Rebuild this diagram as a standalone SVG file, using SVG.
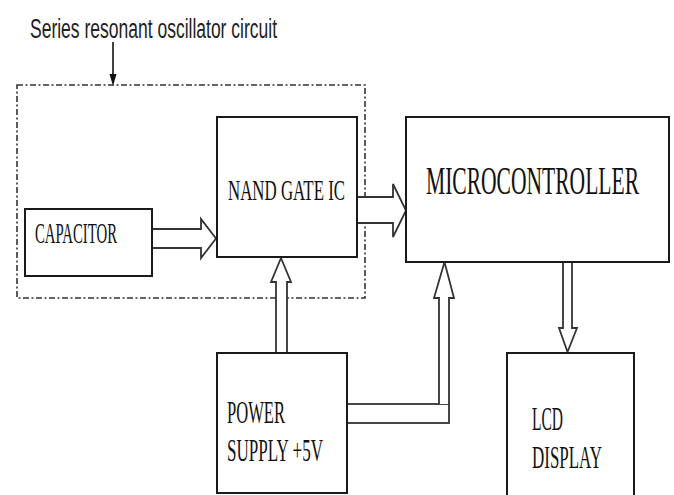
<svg xmlns="http://www.w3.org/2000/svg" width="674" height="495" viewBox="0 0 674 495">
<style>
.box{fill:#fff;stroke:#1a1a1a;stroke-width:2}
.lbl{font-family:"Liberation Serif","Times New Roman",serif;fill:#111}
.arr{fill:#fff;stroke:#333;stroke-width:1.8;stroke-linejoin:miter}
.dash{fill:none;stroke:#333;stroke-width:1.6;stroke-dasharray:6 2.5 2 2.5}
</style>
<rect width="674" height="495" fill="#fff"/>
<g id="group-oscillator">
<rect class="dash" x="17" y="85" width="348" height="213"/>
<text x="30" y="38" font-family="'Liberation Sans',Arial,sans-serif" font-size="27" fill="#222" textLength="247" lengthAdjust="spacingAndGlyphs">Series resonant oscillator circuit</text>
<line x1="113" y1="42" x2="113" y2="76" stroke="#111" stroke-width="1.6"/>
<polygon points="109.5,74 116.5,74 113,86" fill="#111"/>
</g>
<g id="connectors">
<polygon class="arr" points="152,229 201,229 201,219 216,238.5 201,258 201,248 152,248"/>
<polygon class="arr" points="357,197 393,197 393,184 406,210.5 393,237 393,223 357,223"/>
<polygon class="arr" points="276,353 276,282 271,282 281,258 291,282 287,282 287,353"/>
<polygon class="arr" points="563,261 563,328 559,328 567.5,352 577,328 572,328 572,261"/>
<rect class="arr" x="347" y="404" width="102" height="19"/>
<polyline class="arr" points="439,404 439,298 434,298 444.5,262 454,298 449,298 449,404"/>
</g>
<g id="node-capacitor">
<rect class="box" x="25" y="209" width="127" height="67"/>
<text class="lbl" x="35" y="243" font-size="30" textLength="82" lengthAdjust="spacingAndGlyphs">CAPACITOR</text>
</g>
<g id="node-nand">
<rect class="box" x="217" y="117" width="140" height="140"/>
<text class="lbl" x="228" y="200" font-size="30" textLength="117" lengthAdjust="spacingAndGlyphs">NAND GATE IC</text>
</g>
<g id="node-micro">
<rect class="box" x="406" y="117" width="263" height="145"/>
<text class="lbl" x="426" y="194" font-size="39" textLength="213" lengthAdjust="spacingAndGlyphs">MICROCONTROLLER</text>
</g>
<g id="node-power">
<rect class="box" x="217" y="353" width="130" height="140"/>
<text class="lbl" x="227" y="423" font-size="32" textLength="58" lengthAdjust="spacingAndGlyphs">POWER</text>
<text class="lbl" x="227" y="461" font-size="32" textLength="96" lengthAdjust="spacingAndGlyphs">SUPPLY +5V</text>
</g>
<g id="node-lcd">
<rect class="box" x="507" y="353" width="127" height="150"/>
<text class="lbl" x="532" y="430" font-size="33" textLength="31" lengthAdjust="spacingAndGlyphs">LCD</text>
<text class="lbl" x="532" y="468" font-size="32" textLength="70" lengthAdjust="spacingAndGlyphs">DISPLAY</text>
</g>
</svg>
